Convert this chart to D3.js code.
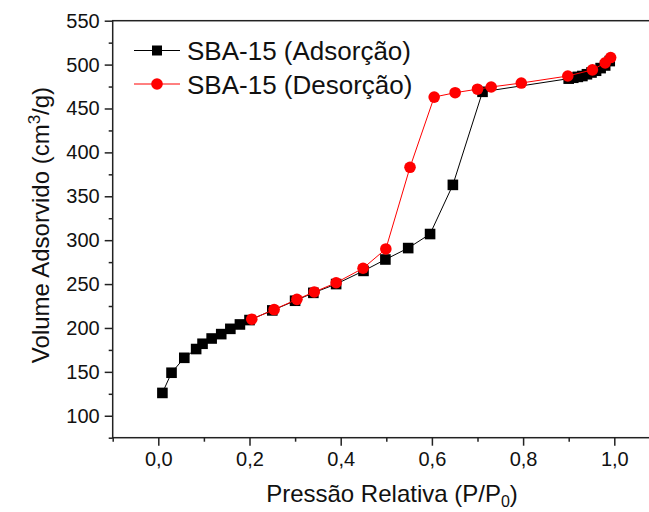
<!DOCTYPE html>
<html>
<head>
<meta charset="utf-8">
<script src="https://cdn.jsdelivr.net/npm/d3@7"></script>
<style>
  body { margin: 0; background: #fff; }
  text { font-family: 'Liberation Sans', Arial, sans-serif; fill: #111; }
</style>
</head>
<body>
<div class="chart"></div>
<script>
// Isotherm data
const adsX = [0.009, 0.029, 0.057, 0.083, 0.097, 0.117, 0.138, 0.158, 0.179, 0.20,
  0.25, 0.30, 0.34, 0.39, 0.45, 0.498, 0.548, 0.596, 0.646, 0.711,
  0.90, 0.91, 0.92, 0.93, 0.94, 0.95, 0.96, 0.97, 0.98, 0.99];
const adsY = [126, 149, 166, 176, 182, 188, 193, 199, 204, 209,
  220, 231, 240, 250, 265, 278, 291, 307, 363, 469,
  484, 485, 486, 487, 489, 491, 493, 496, 499, 504];

const desX = [0.992, 0.98, 0.952, 0.898, 0.796, 0.73, 0.70, 0.651, 0.605, 0.552,
  0.499, 0.449, 0.39, 0.342, 0.304, 0.254, 0.205];
const desY = [508, 502, 494, 487, 479, 474.5, 472, 468, 463, 383,
  290, 268, 251.5, 241, 232.6, 221, 210];

const xTicks = [0, 0.2, 0.4, 0.6, 0.8, 1.0];
const yTicks = [100, 150, 200, 250, 300, 350, 400, 450, 500, 550];
const seriesNames = ['SBA-15 (Adsorção)', 'SBA-15 (Desorção)'];

const margin = { top: 20.7, left: 112.7 };
const W = 649, H = 512;

const svg = d3.select('.chart')
  .append('svg')
  .attr('width', W)
  .attr('height', H);

const x = d3.scaleLinear().domain([-0.1, 1.1]).range([margin.left, margin.left + 1.2 * 456]);
const y = d3.scaleLinear().domain([75, 550]).range([437.7, margin.top]);

const fmt = d => d3.format('.1f')(d).replace('.', ',');

// minor ticks
const xMinor = d3.range(-0.1, 1.11, 0.1).map(d => +d.toFixed(1)).filter(d => !xTicks.includes(d));
const yMinor = d3.range(75, 551, 25).filter(d => !yTicks.includes(d));

// frame
svg.append('rect')
  .attr('x', x(-0.1))
  .attr('y', y(550))
  .attr('width', x(1.1) - x(-0.1))
  .attr('height', y(75) - y(550))
  .attr('fill', 'none')
  .attr('stroke', '#222')
  .attr('stroke-width', 1.5);

svg.append('g')
  .attr('transform', `translate(0,${y(75)})`)
  .call(d3.axisBottom(x).tickValues(xTicks).tickFormat(fmt).tickSize(8).tickPadding(6));
svg.append('g')
  .attr('transform', `translate(0,${y(75)})`)
  .call(d3.axisBottom(x).tickValues(xMinor).tickFormat('').tickSize(4));

svg.append('g')
  .attr('transform', `translate(${x(-0.1)},0)`)
  .call(d3.axisLeft(y).tickValues(yTicks).tickSize(8).tickPadding(5));
svg.append('g')
  .attr('transform', `translate(${x(-0.1)},0)`)
  .call(d3.axisLeft(y).tickValues(yMinor).tickFormat('').tickSize(4));

svg.selectAll('.domain').remove();
svg.selectAll('.tick line').attr('stroke', '#222').attr('stroke-width', 1.5);
svg.selectAll('.tick text')
  .style('font-family', "'Liberation Sans', Arial, sans-serif")
  .style('font-size', '20px')
  .attr('fill', '#111');

// lines and markers
const ads = adsX.map((d, i) => ({ x: d, y: adsY[i] }));
const des = desX.map((d, i) => ({ x: d, y: desY[i] }));
const line = d3.line().x(d => x(d.x)).y(d => y(d.y));

svg.append('path')
  .datum(ads)
  .attr('d', line)
  .attr('fill', 'none')
  .attr('stroke', '#000')
  .attr('stroke-width', 1);

svg.selectAll('.sq')
  .data(ads)
  .enter()
  .append('rect')
  .attr('class', 'sq')
  .attr('x', d => x(d.x) - 5.3)
  .attr('y', d => y(d.y) - 5.3)
  .attr('width', 10.6)
  .attr('height', 10.6)
  .attr('fill', '#000');

svg.append('path')
  .datum(des)
  .attr('d', line)
  .attr('fill', 'none')
  .attr('stroke', '#ff0000')
  .attr('stroke-width', 1);

svg.selectAll('.dot')
  .data(des)
  .enter()
  .append('circle')
  .attr('class', 'dot')
  .attr('cx', d => x(d.x))
  .attr('cy', d => y(d.y))
  .attr('r', 5.8)
  .attr('fill', '#ff0000');

// legend
const legend = svg.append('g');
[0, 1].forEach(i => {
  const ly = 50.5 + i * 33.5;
  legend.append('line')
    .attr('x1', 134).attr('x2', 180)
    .attr('y1', ly).attr('y2', ly)
    .attr('stroke', i === 0 ? '#000' : '#ff0000')
    .attr('stroke-width', 1);
  if (i === 0) {
    legend.append('rect')
      .attr('x', 152).attr('y', ly - 5)
      .attr('width', 10).attr('height', 10)
      .attr('fill', '#000');
  } else {
    legend.append('circle')
      .attr('cx', 157).attr('cy', ly)
      .attr('r', 5.8)
      .attr('fill', '#ff0000');
  }
  legend.append('text')
    .attr('x', 187)
    .attr('y', ly + 9.5)
    .style('font-size', '26px')
    .text(seriesNames[i]);
});

// axis titles
const xt = svg.append('text')
  .attr('x', 392)
  .attr('y', 502)
  .attr('text-anchor', 'middle')
  .style('font-size', '24px');
xt.append('tspan').text('Pressão Relativa (P/P');
xt.append('tspan').attr('dy', 5).style('font-size', '16px').text('0');
xt.append('tspan').attr('dy', -5).text(')');

const yt = svg.append('text')
  .attr('transform', 'translate(49,225) rotate(-90)')
  .attr('text-anchor', 'middle')
  .style('font-size', '24px');
yt.append('tspan').text('Volume Adsorvido (cm');
yt.append('tspan').attr('dy', -9).style('font-size', '17px').text('3');
yt.append('tspan').attr('dy', 9).text('/g)');
</script>
</body>
</html>
